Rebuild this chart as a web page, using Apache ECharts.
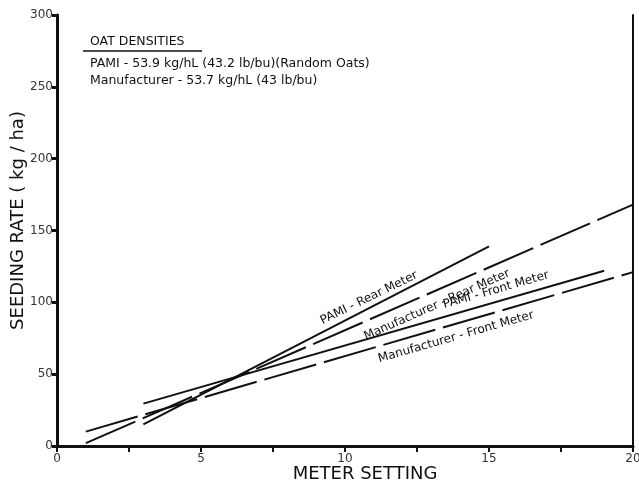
<!DOCTYPE html>
<html>
<head>
<meta charset="utf-8">
<script src="https://cdn.jsdelivr.net/npm/echarts@6/dist/echarts.min.js"></script>
<style>
  html, body { margin: 0; padding: 0; background: #fff; }
  #chart { width: 639px; height: 485px; }
</style>
</head>
<body>
<div id="chart"></div>
<script>
// values: [meter setting, seeding rate]
var pamiRear = [[3, 15], [15, 139]];
var manufRear = [[1, 2], [20, 168]];
var pamiFront = [[3, 29.5], [19, 122]];
var manufFront = [[1, 10], [20, 121]];

var xTicks = [0, 5, 10, 15, 20];
var legendLines = [
  'OAT DENSITIES',
  'PAMI - 53.9 kg/hL (43.2 lb/bu)(Random Oats)',
  'Manufacturer - 53.7 kg/hL (43 lb/bu)'
];
var lineNames = ['PAMI - Rear Meter', 'Manufacturer - Rear Meter', 'PAMI - Front Meter', 'Manufacturer - Front Meter'];

var font = 'DejaVu Sans';
var ink = '#111';

var chart = echarts.init(document.getElementById('chart'));

function lineSeries(name, data, dashed) {
  return {
    name: name,
    type: 'line',
    data: data,
    symbol: 'none',
    silent: true,
    lineStyle: { color: ink, width: 2, type: dashed ? [54, 8] : 'solid' }
  };
}

// label spots (pixel centre + angle)
var labelSpots = [
  { x: 369, y: 298, a: 26 },
  { x: 437, y: 305, a: 24 },
  { x: 496, y: 290, a: 16 },
  { x: 456, y: 337, a: 16 }
];

var graphics = [
  { type: 'text', x: 90, y: 42, style: { text: legendLines[0], verticalAlign: 'middle', font: '12.5px "' + font + '"', fill: ink } },
  { type: 'line', shape: { x1: 83, y1: 51, x2: 202, y2: 51 }, style: { stroke: ink, lineWidth: 1.5 } },
  { type: 'text', x: 90, y: 64, style: { text: legendLines[1], verticalAlign: 'middle', font: '12.5px "' + font + '"', fill: ink } },
  { type: 'text', x: 90, y: 81, style: { text: legendLines[2], verticalAlign: 'middle', font: '12.5px "' + font + '"', fill: ink } }
];
lineNames.forEach(function (n, i) {
  var s = labelSpots[i];
  graphics.push({
    type: 'text', x: s.x, y: s.y, rotation: s.a * Math.PI / 180,
    style: { text: n, x: 0, y: 0, align: 'center', verticalAlign: 'middle', font: '12px "' + font + '"', fill: ink }
  });
});

chart.setOption({
  animation: false,
  grid: { left: 57, right: 6, top: 15, bottom: 39, outerBoundsMode: 'none' },
  xAxis: {
    type: 'value',
    min: 0, max: 20, interval: 2.5,
    name: 'METER SETTING',
    nameLocation: 'middle',
    nameGap: 19,
    nameMoveOverlap: false,
    nameTextStyle: { fontFamily: font, fontSize: 18, color: ink, padding: [0, 0, 0, 40] },
    axisLine: { lineStyle: { color: ink, width: 3 } },
    axisTick: { length: 6, lineStyle: { color: ink, width: 2 } },
    axisLabel: {
      margin: 7, fontFamily: font, fontSize: 12, color: '#333',
      formatter: function (v) { return xTicks.indexOf(v) >= 0 ? String(v) : ''; }
    },
    splitLine: { show: false }
  },
  yAxis: [{
    type: 'value',
    min: 0, max: 300, interval: 50,
    name: 'SEEDING RATE ( kg / ha)',
    nameLocation: 'middle',
    nameGap: 30,
    nameMoveOverlap: false,
    nameTextStyle: { fontFamily: font, fontSize: 18, color: ink, padding: [0, 0, 0, 20] },
    axisLine: { show: true, lineStyle: { color: ink, width: 3 } },
    axisTick: { show: true, length: 5, lineStyle: { color: ink, width: 3 } },
    axisLabel: { margin: 4, fontFamily: font, fontSize: 12, color: '#333' },
    splitLine: { show: false }
  }, {
    type: 'value',
    position: 'right',
    min: 0, max: 300, interval: 50,
    axisLine: { show: true, lineStyle: { color: ink, width: 2 } },
    axisTick: { show: false },
    axisLabel: { show: false },
    splitLine: { show: false }
  }],
  series: [
    lineSeries(lineNames[0], pamiRear, false),
    lineSeries(lineNames[1], manufRear, true),
    lineSeries(lineNames[2], pamiFront, false),
    lineSeries(lineNames[3], manufFront, true)
  ],
  graphic: graphics
});

window.addEventListener('resize', function () { chart.resize(); });
</script>
</body>
</html>
